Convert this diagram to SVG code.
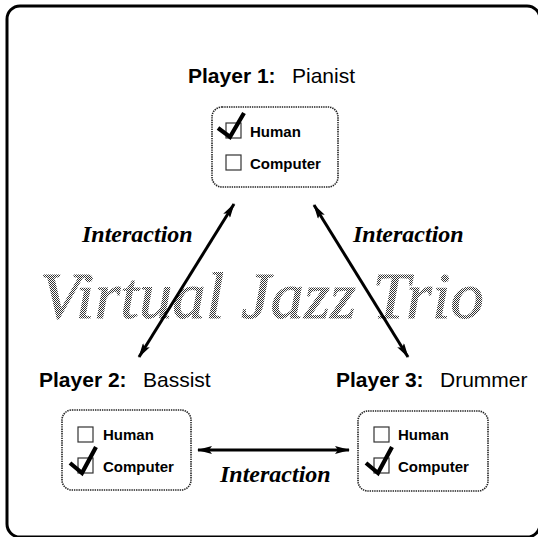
<svg xmlns="http://www.w3.org/2000/svg" width="538" height="537" viewBox="0 0 538 537">
  <style>
    .frame { fill: none; stroke: #000; stroke-width: 3; }
    .title-b { font-family: "Liberation Sans", Arial, sans-serif; font-weight: bold; font-size: 21px; fill: #000; }
    .title-r { font-family: "Liberation Sans", Arial, sans-serif; font-size: 21px; fill: #000; }
    .panel { fill: #fff; stroke: #222; stroke-width: 1.6; stroke-dasharray: 1.4 0.9; }
    .cb { fill: #fff; stroke: #333; stroke-width: 1.2; }
    .opt { font-family: "Liberation Sans", Arial, sans-serif; font-weight: bold; font-size: 15px; fill: #000; }
    .tick { fill: none; stroke: #000; stroke-width: 4.2; stroke-linejoin: miter; stroke-linecap: butt; }
    .link { stroke: #000; stroke-width: 3; fill: none; marker-start: url(#head); marker-end: url(#head); }
    .lbl { font-family: "Liberation Serif", "Times New Roman", serif; font-weight: bold; font-style: italic; font-size: 24px; fill: #000; }
    .mark { font-family: "Liberation Serif", "Times New Roman", serif; font-style: italic; font-size: 66px; fill: url(#dots); stroke: url(#dots); stroke-width: 0.8; }
  </style>
  <defs>
    <!-- halftone fill for the background title -->
    <pattern id="dots" width="2" height="2" patternUnits="userSpaceOnUse">
      <rect x="0" y="0" width="1" height="1" fill="#333"/>
      <rect x="1" y="1" width="1" height="1" fill="#333"/>
    </pattern>
    <marker id="head" viewBox="0 0 15 8" refX="14" refY="4" markerWidth="15" markerHeight="8" markerUnits="userSpaceOnUse" orient="auto-start-reverse">
      <path d="M0,0 L15,4 L0,8 L3,4 Z" fill="#000"/>
    </marker>
  </defs>

  <rect width="538" height="537" fill="#fff"/>

  <!-- outer frame -->
  <rect class="frame" x="7" y="6" width="533" height="531" rx="13" ry="13"/>

  <!-- background title -->
  <text class="mark" x="40" y="318" textLength="444" lengthAdjust="spacingAndGlyphs">Virtual Jazz Trio</text>

  <!-- interaction connectors -->
  <g id="connectors">
    <line class="link" x1="139" y1="357" x2="234" y2="204"/>
    <line class="link" x1="314" y1="205" x2="408" y2="357"/>
    <line class="link" x1="198" y1="450" x2="349" y2="450"/>
    <text class="lbl" x="82" y="242">Interaction</text>
    <text class="lbl" x="353" y="242">Interaction</text>
    <text class="lbl" x="220" y="482">Interaction</text>
  </g>

  <!-- player 1 -->
  <g id="player1">
    <text class="title-b" x="188" y="83">Player 1:</text>
    <text class="title-r" x="292" y="83">Pianist</text>
    <rect class="panel" x="212" y="107" width="126" height="80" rx="10" ry="10"/>
    <rect class="cb" x="226" y="123" width="15" height="15"/>
    <path class="tick" d="M218,128 L230,137 L244,113"/>
    <text class="opt" x="250" y="137">Human</text>
    <rect class="cb" x="226" y="155" width="15" height="15"/>
    <text class="opt" x="250" y="169">Computer</text>
  </g>

  <!-- player 2 -->
  <g id="player2">
    <text class="title-b" x="39" y="387">Player 2:</text>
    <text class="title-r" x="143" y="387">Bassist</text>
    <rect class="panel" x="62" y="410" width="129" height="80" rx="10" ry="10"/>
    <rect class="cb" x="78" y="427" width="15" height="15"/>
    <text class="opt" x="103" y="440">Human</text>
    <rect class="cb" x="78" y="458" width="15" height="15"/>
    <path class="tick" d="M70,463 L82,473 L96,447"/>
    <text class="opt" x="103" y="472">Computer</text>
  </g>

  <!-- player 3 -->
  <g id="player3">
    <text class="title-b" x="336" y="387">Player 3:</text>
    <text class="title-r" x="440" y="387">Drummer</text>
    <rect class="panel" x="358" y="411" width="130" height="80" rx="10" ry="10"/>
    <rect class="cb" x="374" y="427" width="15" height="15"/>
    <text class="opt" x="398" y="440">Human</text>
    <rect class="cb" x="374" y="458" width="15" height="15"/>
    <path class="tick" d="M366,463 L378,473 L392,447"/>
    <text class="opt" x="398" y="472">Computer</text>
  </g>
</svg>
